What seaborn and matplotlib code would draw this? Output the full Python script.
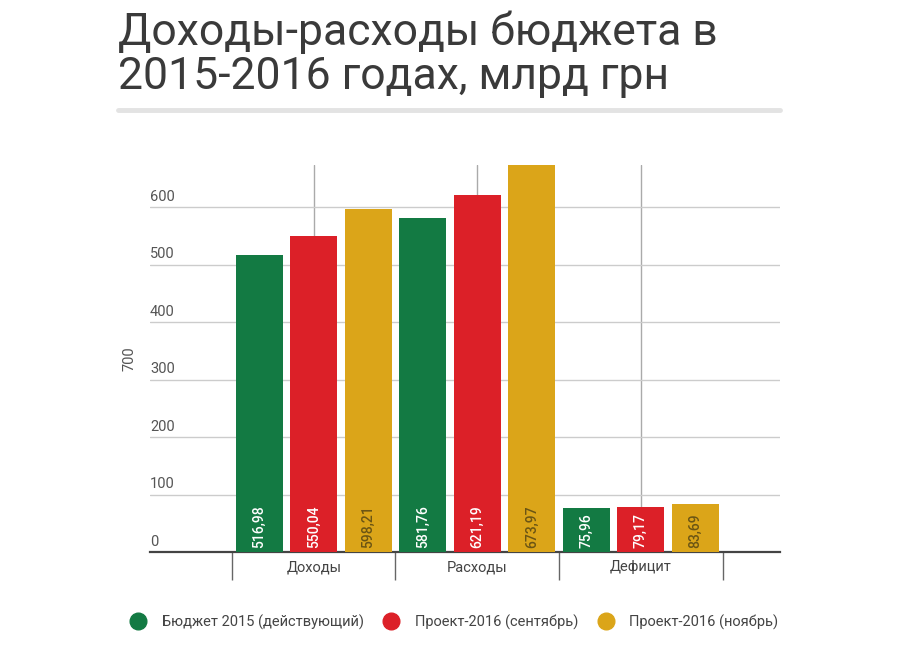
import numpy as np
import pandas as pd
import matplotlib
matplotlib.use("Agg")
import matplotlib.pyplot as plt
import matplotlib.transforms as mtransforms
from matplotlib.lines import Line2D
import seaborn as sns

# данные
categories = ["Доходы", "Расходы", "Дефицит"]
series = ["Бюджет 2015 (действующий)", "Проект-2016 (сентябрь)", "Проект-2016 (ноябрь)"]
budget_2015 = [516.98, 581.76, 75.96]
project_sep = [550.04, 621.19, 79.17]
project_nov = [598.21, 673.97, 83.69]
y_ticks = [0, 100, 200, 300, 400, 500, 600]

colors = ["#137a43", "#dc2028", "#dba519"]
label_colors = ["white", "white", "#6b5514"]

df = pd.DataFrame({
    "cat": categories * 3,
    "series": [series[0]] * 3 + [series[1]] * 3 + [series[2]] * 3,
    "value": budget_2015 + project_sep + project_nov,
})

sns.set_style("white")
plt.rcParams["font.family"] = ["Roboto", "DejaVu Sans"]

fig = plt.figure(figsize=(9, 6.6), dpi=100)
ax = fig.add_axes([150 / 900, 1 - 552 / 660, 630 / 900, (552 - 165) / 660])

sns.barplot(data=df, x="cat", y="value", hue="series", order=categories,
            hue_order=series, palette=colors, width=1.0, gap=0.14,
            saturation=1, legend=False, ax=ax, zorder=3, linewidth=0)

ax.set_ylim(0, 673.97)
ax.set_xlim(-1.0, 2.85)

# сетка
ax.set_yticks(y_ticks)
ax.set_yticklabels([])
ax.tick_params(axis="y", length=0)
ax.yaxis.grid(True, color="#cccccc", lw=1)
ax.xaxis.grid(True, color="#aaaaaa", lw=1)
ax.set_axisbelow(True)
for s in ["top", "right", "left"]:
    ax.spines[s].set_visible(False)
ax.spines["bottom"].set_color("#444444")
ax.spines["bottom"].set_linewidth(1.6)

trans = mtransforms.blended_transform_factory(ax.transAxes, ax.transData)
for t in y_ticks:
    ax.text(0.0, t + 6, str(t), transform=trans, ha="left", va="bottom",
            fontsize=10.5, color="#555555")

# подписи категорий и разделители
ax.tick_params(axis="x", which="major", length=0, pad=6, labelsize=10.5,
               labelcolor="#444444")
ax.set_xticks([-0.5, 0.5, 1.5, 2.5], minor=True)
ax.tick_params(axis="x", which="minor", bottom=True, length=20, width=1,
               color="#666666", direction="out")
ax.set_xlabel("")
ax.set_ylabel("700", fontsize=10.5, color="#555555", labelpad=6)

# значения на столбцах
for i, cont in enumerate(ax.containers):
    for bar in cont:
        v = bar.get_height()
        ax.text(bar.get_x() + bar.get_width() / 2, 7, f"{v:.2f}".replace(".", ","),
                rotation=90, ha="center", va="bottom", fontsize=10,
                color=label_colors[i], fontweight="medium", zorder=5)

# заголовок
fig.text(118 / 900, 1 - 10 / 660, "Доходы-расходы бюджета в\n2015-2016 годах, млрд грн",
         ha="left", va="top", fontsize=32, color="#3a3a3a", linespacing=1.08)
fig.add_artist(Line2D([118 / 900, 780 / 900], [1 - 110 / 660, 1 - 110 / 660],
                      color="#e3e3e3", lw=3.5))

# легенда
handles = [Line2D([], [], marker="o", ls="", markersize=12, color=c) for c in colors]
fig.legend(handles, series, loc="center", bbox_to_anchor=(451 / 900, 1 - 622 / 660),
           ncol=3, frameon=False, fontsize=10.5, labelcolor="#444444",
           handletextpad=0.6, columnspacing=0.9)

fig.savefig("out.png", dpi=100)
